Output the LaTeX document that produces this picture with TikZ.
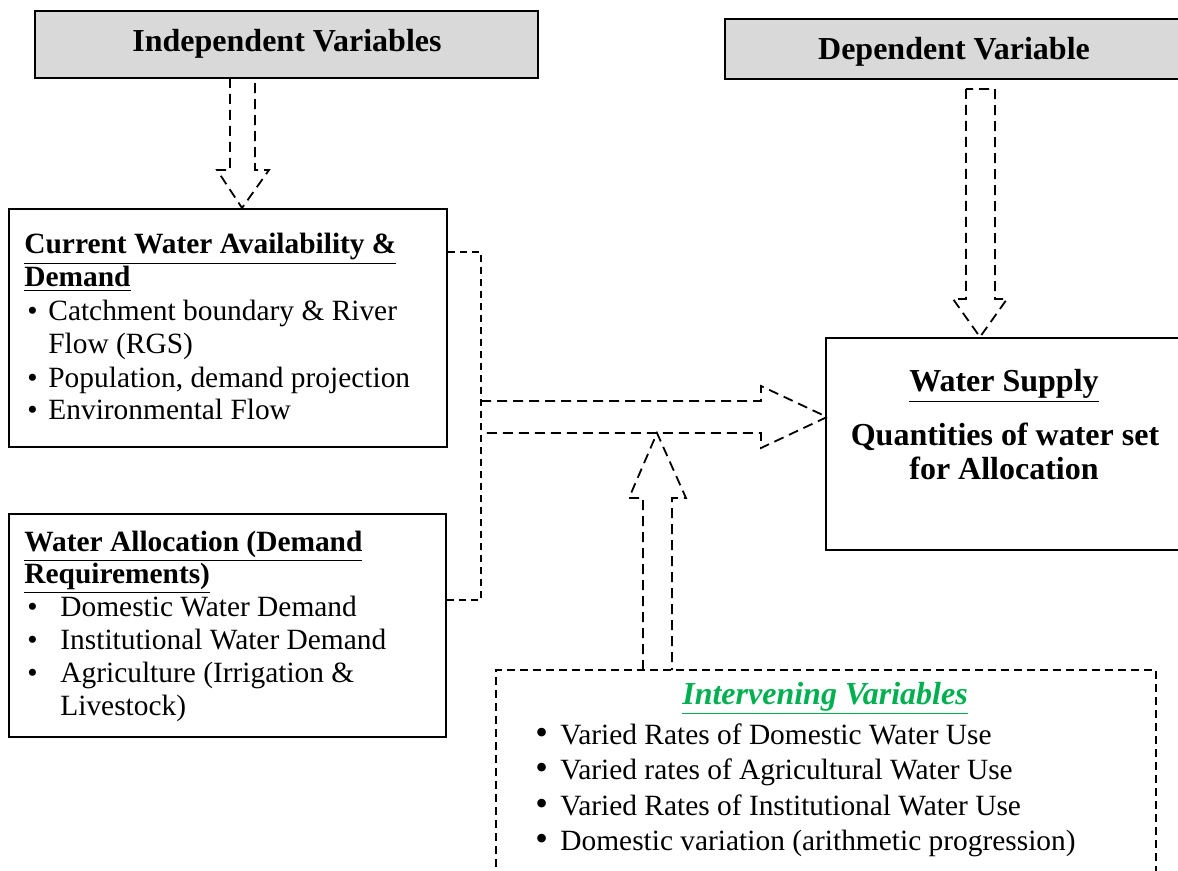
\documentclass[tikz,border=0pt]{standalone}
\usepackage{fontspec}
\setmainfont{Liberation Serif}
\usetikzlibrary{fit}
\definecolor{hdgrey}{RGB}{217,217,217}
\definecolor{ivgreen}{RGB}{0,176,80}
\tikzset{
  box/.style={draw,line width=1pt,inner sep=0pt},
  greybox/.style={box,fill=hdgrey},
  dbox/.style={draw,line width=0.9pt,dash pattern=on 4pt off 2.5pt},
  hollow/.style={draw,line width=0.9pt,dash pattern=on 5pt off 3pt,line join=miter},
  bracket/.style={draw,line width=0.8pt,dash pattern=on 3.5pt off 2.5pt},
  txt/.style={anchor=base west,inner sep=0pt,font=\fontsize{14.7}{17}\selectfont},
  btxt/.style={txt,font=\fontsize{14.7}{17}\selectfont\bfseries},
  ctxt/.style={anchor=base,inner sep=0pt,font=\fontsize{16}{18}\selectfont\bfseries},
  hd/.style={anchor=base,inner sep=0pt,font=\fontsize{16}{18}\selectfont\bfseries},
}
\newcommand{\blt}{\textbullet}
\newcommand{\bigblt}{{\fontsize{18}{16}\selectfont\textbullet}}
\begin{document}
\begin{tikzpicture}[x=0.5pt,y=-0.5pt]
  \clip (0,0) rectangle (1178,871);
  % corners of the boxes
  \coordinate (i1) at (35,11);   \coordinate (i2) at (538,78);
  \coordinate (d1) at (725,19);  \coordinate (d2) at (1190,79);
  \coordinate (c1) at (9,209);   \coordinate (c2) at (447,447);
  \coordinate (a1) at (9,514);   \coordinate (a2) at (446,737);
  \coordinate (w1) at (826,338); \coordinate (w2) at (1190,550);
  \coordinate (v1) at (496,670); \coordinate (v2) at (1156,890);
  % boxes
  \node[greybox,fit=(i1)(i2)] (indep) {};
  \node[greybox,fit=(d1)(d2)] (dep) {};
  \node[box,fit=(c1)(c2)] (cur) {};
  \node[box,fit=(a1)(a2)] (alloc) {};
  \node[box,fit=(w1)(w2)] (supply) {};
  \node[dbox,fit=(v1)(v2),inner sep=0pt] (interv) {};
  % headings
  \node[hd] (indeptxt) at (287,52) {Independent Variables};
  \node[hd] (deptxt) at (954,60) {Dependent Variable};
  % current water availability
  \node[btxt] (cur1) at (24,254) {\underline{Current Water Availability \&}};
  \node[btxt] (cur2) at (24,287) {\underline{Demand}};
  \node[txt] (curb1) at (27,321) {\blt};
  \node[txt] (cur3) at (48,321) {Catchment boundary \& River};
  \node[txt] (cur4) at (48,354) {Flow (RGS)};
  \node[txt] (curb2) at (27,388) {\blt};
  \node[txt] (cur5) at (48,388) {Population, demand projection};
  \node[txt] (curb3) at (27,420) {\blt};
  \node[txt] (cur6) at (48,420) {Environmental Flow};
  % water allocation
  \node[btxt] (al1) at (24,551) {\underline{Water Allocation (Demand}};
  \node[btxt] (al2) at (24,583) {\underline{Requirements)}};
  \node[txt] (alb1) at (27,616) {\blt};
  \node[txt] (al3) at (60,616) {Domestic Water Demand};
  \node[txt] (alb2) at (27,649) {\blt};
  \node[txt] (al4) at (60,649) {Institutional Water Demand};
  \node[txt] (alb3) at (27,682) {\blt};
  \node[txt] (al5) at (60,682) {Agriculture (Irrigation \&};
  \node[txt] (al6) at (60,715) {Livestock)};
  % water supply
  \node[ctxt] (ws1) at (1004,392) {\underline{Water Supply}};
  \node[ctxt] (ws2) at (1005,445) {Quantities of water set};
  \node[ctxt] (ws3) at (1004,480) {for Allocation};
  % intervening variables
  \node[ctxt,font=\fontsize{16}{18}\selectfont\bfseries\itshape,text=ivgreen] (iv0) at (825,704) {\underline{Intervening Variables}};
  \node[txt] (ivb1) at (535,744) {\bigblt};
  \node[txt] (iv1) at (560,744) {Varied Rates of Domestic Water Use};
  \node[txt] (ivb2) at (535,779) {\bigblt};
  \node[txt] (iv2) at (560,779) {Varied rates of Agricultural Water Use};
  \node[txt] (ivb3) at (535,815) {\bigblt};
  \node[txt] (iv3) at (560,815) {Varied Rates of Institutional Water Use};
  \node[txt] (ivb4) at (535,850) {\bigblt};
  \node[txt] (iv4) at (560,850) {Domestic variation (arithmetic progression)};
  % hollow arrows
  \draw[hollow] (230,78)--(230,170)--(217,170)--(242,208)--(269,170)--(255,170)--(255,78);
  \draw[hollow] (966,89)--(966,299)--(953,299)--(980,337)--(1007,299)--(995,299)--(995,89)--cycle;
  \draw[hollow] (481,401)--(761,401)--(761,386)--(827,417)--(761,448)--(761,433)--(481,433);
  \draw[hollow] (643,670)--(643,498)--(629,498)--(657,433)--(686,498)--(672,498)--(672,670);
  % bracket joining the two left boxes
  \draw[bracket] (cur.east|-0,252)--(481,252)--(481,600)--(alloc.east|-0,600);
\end{tikzpicture}
\end{document}
